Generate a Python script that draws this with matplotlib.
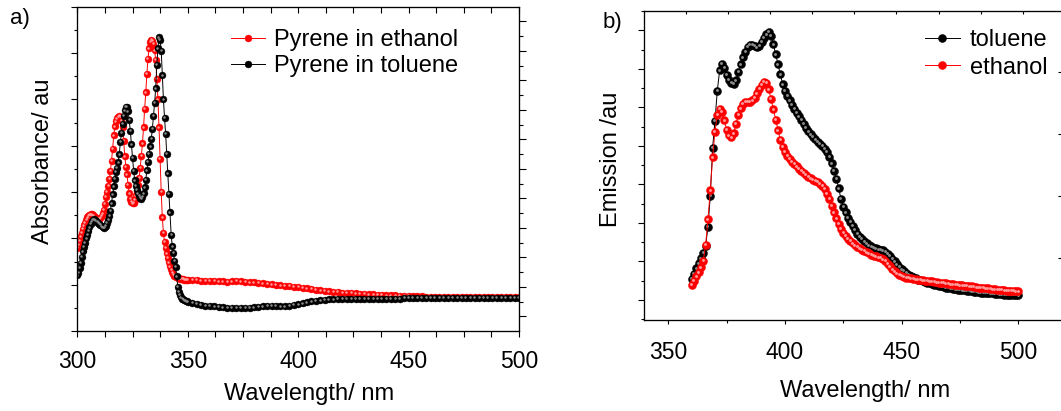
import numpy as np
import matplotlib
matplotlib.use("Agg")
import matplotlib.pyplot as plt
from matplotlib.ticker import MultipleLocator, FixedLocator, NullFormatter
from matplotlib.transforms import offset_copy

plt.rcParams["font.family"] = ["Liberation Sans", "DejaVu Sans"]

# ---------------- (a) UV-vis absorbance ----------------
abs_wl_band = np.arange(300.0, 350.5, 0.5)   # 0.5 nm steps through the bands
abs_wl_tail = np.arange(352.0, 501.0, 2.0)   # 2 nm steps in the baseline

abs_ethanol_band = [
    0.180, 0.186, 0.195, 0.204, 0.212, 0.220, 0.228, 0.234, 0.240, 0.245,
    0.248, 0.251, 0.252, 0.252, 0.250, 0.248, 0.245, 0.243, 0.242, 0.241,
    0.242, 0.244, 0.248, 0.254, 0.262, 0.275, 0.289, 0.300, 0.313, 0.328,
    0.346, 0.368, 0.393, 0.422, 0.442, 0.453, 0.459, 0.462, 0.464, 0.462,
    0.455, 0.440, 0.410, 0.377, 0.355, 0.338, 0.315, 0.297, 0.285, 0.279,
    0.276, 0.277, 0.283, 0.293, 0.303, 0.316, 0.330, 0.352, 0.378, 0.405,
    0.440, 0.480, 0.515, 0.555, 0.588, 0.610, 0.624, 0.629, 0.627, 0.620,
    0.606, 0.585, 0.545, 0.500, 0.440, 0.372, 0.300, 0.245, 0.212, 0.192,
    0.180, 0.168, 0.158, 0.148, 0.140, 0.133, 0.127, 0.122, 0.119, 0.117,
    0.116, 0.115, 0.114, 0.113, 0.113, 0.112, 0.112, 0.111, 0.111, 0.111,
    0.110,
]
abs_ethanol_tail = [
    0.110, 0.110, 0.109, 0.109, 0.108, 0.108, 0.107, 0.107, 0.106, 0.107,
    0.108, 0.107, 0.106, 0.105, 0.105, 0.104, 0.103, 0.102, 0.101, 0.100,
    0.099, 0.098, 0.097, 0.096, 0.095, 0.093, 0.092, 0.091, 0.089, 0.088,
    0.087, 0.086, 0.085, 0.084, 0.083, 0.082, 0.082, 0.081, 0.080, 0.080,
    0.079, 0.079, 0.078, 0.078, 0.077, 0.077, 0.077, 0.076, 0.076, 0.076,
    0.075, 0.075, 0.075, 0.074, 0.074, 0.074, 0.073, 0.073, 0.073, 0.073,
    0.073, 0.073, 0.073, 0.073, 0.073, 0.073, 0.073, 0.073, 0.073, 0.073,
    0.073, 0.073, 0.073, 0.073, 0.073,
]
abs_toluene_band = [
    0.120, 0.125, 0.136, 0.147, 0.160, 0.172, 0.182, 0.191, 0.200, 0.208,
    0.216, 0.224, 0.232, 0.237, 0.240, 0.241, 0.240, 0.238, 0.236, 0.234,
    0.232, 0.229, 0.226, 0.224, 0.223, 0.224, 0.227, 0.233, 0.240, 0.248,
    0.260, 0.276, 0.295, 0.312, 0.328, 0.343, 0.352, 0.364, 0.381, 0.408,
    0.428, 0.447, 0.464, 0.476, 0.484, 0.484, 0.474, 0.456, 0.432, 0.403,
    0.374, 0.346, 0.325, 0.313, 0.305, 0.297, 0.292, 0.287, 0.285, 0.289,
    0.297, 0.310, 0.327, 0.347, 0.365, 0.382, 0.399, 0.415, 0.437, 0.465,
    0.492, 0.524, 0.575, 0.610, 0.634, 0.628, 0.605, 0.552, 0.500, 0.460,
    0.425, 0.382, 0.340, 0.296, 0.256, 0.208, 0.183, 0.169, 0.152, 0.139,
    0.118, 0.096, 0.084, 0.078, 0.073, 0.070, 0.068, 0.066, 0.065, 0.064,
    0.063,
]
abs_toluene_tail = [
    0.061, 0.059, 0.057, 0.055, 0.054, 0.053, 0.052, 0.051, 0.050, 0.050,
    0.050, 0.050, 0.050, 0.050, 0.051, 0.052, 0.053, 0.054, 0.054, 0.054,
    0.053, 0.053, 0.054, 0.056, 0.058, 0.060, 0.062, 0.064, 0.065, 0.066,
    0.067, 0.068, 0.068, 0.069, 0.069, 0.069, 0.070, 0.070, 0.070, 0.070,
    0.070, 0.070, 0.070, 0.070, 0.070, 0.070, 0.070, 0.070, 0.071, 0.071,
    0.071, 0.071, 0.071, 0.071, 0.071, 0.071, 0.071, 0.071, 0.071, 0.071,
    0.071, 0.071, 0.071, 0.071, 0.071, 0.071, 0.071, 0.071, 0.071, 0.071,
    0.071, 0.071, 0.071, 0.071, 0.071,
]

# ---------------- (b) fluorescence emission ----------------
em_wl = np.arange(360, 501, 1)

em_toluene = [
    0.55, 0.68, 0.82, 0.95, 1.08, 1.22, 1.40, 1.90, 2.70, 3.95,
    4.65, 5.43, 5.96, 6.13, 6.02, 5.85, 5.72, 5.64, 5.61, 5.70,
    5.92, 6.12, 6.30, 6.45, 6.57, 6.62, 6.63, 6.60, 6.56, 6.60,
    6.70, 6.80, 6.90, 6.96, 6.85, 6.64, 6.38, 6.12, 5.86, 5.60,
    5.43, 5.30, 5.18, 5.06, 4.96, 4.86, 4.77, 4.67, 4.57, 4.47,
    4.38, 4.30, 4.23, 4.17, 4.11, 4.06, 4.00, 3.93, 3.84, 3.72,
    3.55, 3.35, 3.15, 2.90, 2.62, 2.42, 2.28, 2.14, 2.03, 1.92,
    1.82, 1.72, 1.64, 1.58, 1.52, 1.47, 1.42, 1.39, 1.36, 1.34,
    1.32, 1.31, 1.29, 1.25, 1.20, 1.14, 1.07, 1.00, 0.93, 0.86,
    0.80, 0.75, 0.70, 0.66, 0.62, 0.59, 0.56, 0.53, 0.51, 0.49,
    0.47, 0.45, 0.43, 0.41, 0.39, 0.38, 0.36, 0.35, 0.34, 0.32,
    0.31, 0.30, 0.29, 0.28, 0.27, 0.26, 0.25, 0.25, 0.24, 0.23,
    0.22, 0.21, 0.21, 0.20, 0.19, 0.19, 0.18, 0.18, 0.17, 0.17,
    0.16, 0.16, 0.15, 0.15, 0.14, 0.14, 0.14, 0.13, 0.13, 0.13,
    0.12,
]
em_ethanol = [
    0.39, 0.50, 0.61, 0.72, 0.85, 1.02, 1.43, 2.09, 2.85, 3.70,
    4.37, 4.80, 4.96, 4.88, 4.66, 4.42, 4.27, 4.22, 4.33, 4.58,
    4.80, 4.98, 5.09, 5.14, 5.15, 5.15, 5.18, 5.25, 5.37, 5.48,
    5.58, 5.66, 5.63, 5.47, 5.22, 4.95, 4.68, 4.40, 4.15, 3.97,
    3.84, 3.74, 3.66, 3.59, 3.53, 3.47, 3.41, 3.36, 3.30, 3.25,
    3.20, 3.16, 3.12, 3.09, 3.06, 3.02, 2.96, 2.88, 2.76, 2.62,
    2.45, 2.28, 2.12, 1.98, 1.85, 1.75, 1.66, 1.59, 1.53, 1.47,
    1.42, 1.38, 1.34, 1.30, 1.27, 1.24, 1.21, 1.18, 1.15, 1.13,
    1.11, 1.09, 1.06, 1.01, 0.94, 0.87, 0.80, 0.74, 0.69, 0.65,
    0.62, 0.60, 0.58, 0.57, 0.56, 0.55, 0.54, 0.53, 0.52, 0.51,
    0.50, 0.49, 0.48, 0.48, 0.47, 0.46, 0.45, 0.45, 0.44, 0.43,
    0.42, 0.41, 0.41, 0.40, 0.39, 0.38, 0.38, 0.37, 0.36, 0.35,
    0.35, 0.34, 0.33, 0.32, 0.31, 0.31, 0.30, 0.30, 0.29, 0.28,
    0.28, 0.27, 0.26, 0.26, 0.25, 0.24, 0.24, 0.23, 0.23, 0.22,
    0.22,
]

abs_x_ticks = [300, 350, 400, 450, 500]
em_x_ticks = [350, 400, 450, 500]

RED, RED_SHINE = "#ff0000", "#ff9c9c"
BLACK, BLACK_SHINE = "#000000", "#8c8c8c"

W, H = 1061, 411
fig = plt.figure(figsize=(W / 100, H / 100), dpi=100)


def box(left, top, right, bottom):
    """Axes rectangle from pixel edges measured from the top-left corner."""
    return [left / W, 1 - bottom / H, (right - left) / W, (bottom - top) / H]


def sphere_series(ax, x, y, color, shine, ms, label):
    """Connected scatter with shaded 'ball' markers."""
    line, = ax.plot(x, y, "-", color=color, lw=0.7, marker="o", ms=ms,
                    mfc=color, mec=color, mew=0.3, label=label)
    tr = offset_copy(ax.transData, fig=ax.figure, x=-0.45, y=0.45, units="points")
    ax.plot(x, y, ls="none", marker="o", ms=ms * 0.36, mfc=shine,
            mec="none", transform=tr)
    return line


SPINE_W = 0.8

# ======================= panel (a) =======================
ax1 = fig.add_axes(box(77.3, 6.7, 519.0, 331.0))
l_eth = sphere_series(ax1, np.concatenate([abs_wl_band, abs_wl_tail]),
                      abs_ethanol_band + abs_ethanol_tail,
                      RED, RED_SHINE, 5.0, "Pyrene in ethanol")
l_tol = sphere_series(ax1, np.concatenate([abs_wl_band, abs_wl_tail]),
                      abs_toluene_band + abs_toluene_tail,
                      BLACK, BLACK_SHINE, 5.0, "Pyrene in toluene")
ax1.set_xlim(300, 500)
ax1.set_ylim(0, 0.7)
ax1.xaxis.set_major_locator(FixedLocator(abs_x_ticks))
ax1.xaxis.set_minor_locator(MultipleLocator(12.5))
ax1.yaxis.set_major_locator(MultipleLocator(0.1))
ax1.yaxis.set_minor_locator(MultipleLocator(0.05))
ax1.yaxis.set_major_formatter(NullFormatter())
ax1.tick_params(axis="x", which="both", direction="out", length=4.1,
                width=SPINE_W, labelsize=16.5, pad=9.6)
ax1.tick_params(axis="y", which="major", direction="out", length=4.3, width=SPINE_W)
ax1.tick_params(axis="y", which="minor", direction="out", length=2.5, width=SPINE_W)
for s in ax1.spines.values():
    s.set_linewidth(SPINE_W)

ax1t = ax1.twiny()
ax1t.set_xlim(300, 500)
ax1t.xaxis.set_major_locator(FixedLocator(abs_x_ticks))
ax1t.xaxis.set_minor_locator(MultipleLocator(12.5))
ax1t.xaxis.set_major_formatter(NullFormatter())
ax1t.tick_params(axis="x", which="both", direction="in", length=4.6, width=SPINE_W)

ax1r = ax1.twinx()
ax1r.set_ylim(0, 21.99)
ax1r.yaxis.set_major_locator(FixedLocator(list(range(1, 22, 2))))
ax1r.yaxis.set_minor_locator(FixedLocator(list(range(2, 21, 2))))
ax1r.yaxis.set_major_formatter(NullFormatter())
ax1r.tick_params(axis="y", which="major", direction="out", length=5.0, width=SPINE_W)
ax1r.tick_params(axis="y", which="minor", direction="out", length=2.9, width=SPINE_W)
for a in (ax1t, ax1r):
    for s in a.spines.values():
        s.set_linewidth(SPINE_W)

fig.legend(handles=[l_eth, l_tol], loc="upper left",
           bbox_to_anchor=(231 / W, 1 - 28.8 / H), bbox_transform=fig.transFigure,
           frameon=False, fontsize=17, borderpad=0, borderaxespad=0,
           handlelength=1.44, handletextpad=0.36, labelspacing=0.19)

fig.text(49 / W, 1 - 161.7 / H, "Absorbance/ au", rotation=90,
         rotation_mode="anchor", ha="center", va="baseline", fontsize=17)
fig.text(308.6 / W, 1 - 400 / H, "Wavelength/ nm", ha="center",
         va="baseline", fontsize=17)
fig.text(9.6 / W, 1 - 24 / H, "a)", ha="left", va="baseline", fontsize=16)

# ======================= panel (b) =======================
ax2 = fig.add_axes(box(644.0, 10.7, 1063.0, 320.0))
l_tol2 = sphere_series(ax2, em_wl, em_toluene, BLACK, BLACK_SHINE, 5.8, "toluene")
l_eth2 = sphere_series(ax2, em_wl, em_ethanol, RED, RED_SHINE, 5.8, "ethanol")
ax2.set_xlim(339.6, 519.1)
ax2.set_ylim(-0.52, 7.51)
ax2.xaxis.set_major_locator(FixedLocator(em_x_ticks))
ax2.xaxis.set_minor_locator(FixedLocator([375, 425, 475]))
ax2.yaxis.set_major_locator(MultipleLocator(1))
ax2.yaxis.set_minor_locator(MultipleLocator(0.5))
ax2.yaxis.set_major_formatter(NullFormatter())
ax2.tick_params(axis="x", which="major", direction="out", length=3.2,
                width=SPINE_W, labelsize=16.5, pad=12.0)
ax2.tick_params(axis="x", which="minor", direction="out", length=2.2, width=SPINE_W)
ax2.tick_params(axis="y", which="major", direction="out", length=4.1, width=SPINE_W)
ax2.tick_params(axis="y", which="minor", direction="out", length=2.2, width=SPINE_W)
for s in ax2.spines.values():
    s.set_linewidth(SPINE_W)

ax2t = ax2.twiny()
ax2t.set_xlim(0, 9.957)
ax2t.xaxis.set_major_locator(FixedLocator(list(range(1, 10))))
ax2t.xaxis.set_major_formatter(NullFormatter())
ax2t.tick_params(axis="x", which="major", direction="in", length=2.4, width=SPINE_W)

ax2r = ax2.twinx()
ax2r.set_ylim(0, 4.99)
ax2r.yaxis.set_major_locator(FixedLocator([1, 2, 3, 4]))
ax2r.yaxis.set_major_formatter(NullFormatter())
ax2r.tick_params(axis="y", which="major", direction="in", length=3.6, width=SPINE_W)
for a in (ax2t, ax2r):
    for s in a.spines.values():
        s.set_linewidth(SPINE_W)

fig.legend(handles=[l_tol2, l_eth2], loc="upper left",
           bbox_to_anchor=(924.7 / W, 1 - 29.5 / H), bbox_transform=fig.transFigure,
           frameon=False, fontsize=17, borderpad=0, borderaxespad=0,
           handlelength=1.5, handletextpad=0.41, labelspacing=0.22)

fig.text(617.3 / W, 1 - 159.2 / H, "Emission /au", rotation=90,
         rotation_mode="anchor", ha="center", va="baseline", fontsize=17)
fig.text(864.7 / W, 1 - 396.7 / H, "Wavelength/ nm", ha="center",
         va="baseline", fontsize=17)
fig.text(603 / W, 1 - 28.3 / H, "b)", ha="left", va="baseline", fontsize=16)

fig.savefig("out.png", dpi=100)
